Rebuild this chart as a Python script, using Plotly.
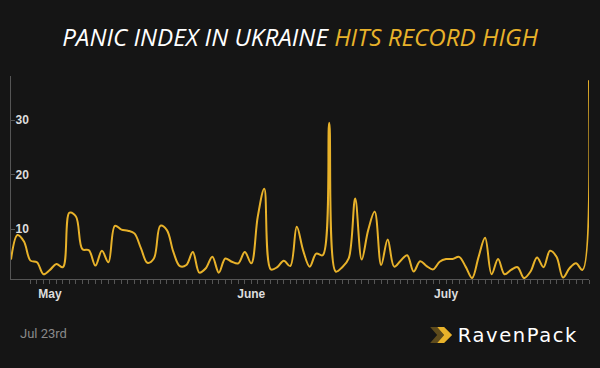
import plotly.graph_objects as go
import pandas as pd

# ---- data ----
start_date = "2014-04-25"
end_date = "2014-07-23"
panic_index = [
    4.4, 8.9, 7.7, 4.2, 3.9, 1.7, 2.5, 3.6, 3.0, 13.0,
    12.3, 6.3, 6.1, 3.3, 6.0, 3.9, 10.6, 9.9, 9.7, 9.2,
    6.5, 3.8, 4.6, 10.6, 9.8, 5.8, 3.2, 3.4, 5.8, 2.0,
    2.8, 4.9, 2.0, 4.6, 4.0, 3.7, 5.8, 3.7, 12.3, 17.4,
    2.6, 3.0, 4.2, 3.2, 10.4, 6.0, 3.1, 5.5, 5.2, 29.5,
    2.2, 3.0, 4.6, 15.6, 4.4, 9.8, 13.2, 3.4, 8.1, 3.1,
    4.2, 5.2, 2.2, 4.1, 3.2, 2.6, 4.0, 4.5, 4.5, 4.9,
    3.1, 1.0, 4.9, 8.4, 1.7, 4.5, 1.7, 2.5, 3.0, 1.0,
    2.2, 4.8, 3.0, 6.0, 4.9, 1.1, 2.8, 3.7, 2.5, 37.3,
]
dates = pd.date_range(start_date, end_date, freq="D")
y_ticks = [10, 20, 30]

title_white = "PANIC INDEX IN UKRAINE"
title_gold = "HITS RECORD HIGH"
footer_date = "Jul 23rd"
brand = "RavenPack"

BG = "#151515"
GOLD = "#E8B22A"

fig = go.Figure()
fig.add_trace(go.Scatter(
    x=dates, y=panic_index, mode="lines",
    line=dict(color=GOLD, width=2, shape="spline", smoothing=1.0),
    hoverinfo="x+y",
))

fig.update_layout(
    width=600, height=368,
    paper_bgcolor=BG, plot_bgcolor=BG,
    margin=dict(l=10.5, r=11, t=76, b=89),
    showlegend=False,
    title=dict(
        text=f"{title_white} <span style='color:{GOLD}'>{title_gold}</span>",
        x=0.5, xanchor="center", y=1 - 38 / 368, yanchor="middle",
        font=dict(family="Open Sans", size=24.2, color="#ffffff", style="italic"),
    ),
    xaxis=dict(
        range=[dates[0], dates[-1]],
        showgrid=False, zeroline=False,
        showline=True, linecolor="#555555", linewidth=1,
        ticks="outside", ticklen=4, tickcolor="#555555",
        dtick="M1", tick0="2014-05-01", tickformat="%B",
        tickfont=dict(family="Liberation Sans", size=12, color="#dddddd", weight="bold"),
        minor=dict(dtick=86400000, tick0=start_date, ticks="outside", ticklen=4,
                   tickcolor="#555555", showgrid=False),
    ),
    yaxis=dict(
        range=[0.83, 38.1],
        showgrid=False, zeroline=False,
        showline=True, linecolor="#555555", linewidth=1,
        tickvals=y_ticks,
        ticks="inside", ticklen=4, tickcolor="#555555",
        ticklabelposition="inside",
        tickfont=dict(family="Liberation Sans", size=12, color="#dddddd", weight="bold"),
    ),
)

fig.add_annotation(
    text=footer_date, xref="paper", yref="paper",
    x=-(10.5 - 18) / 578.5, y=-(333 - 279) / 203, xanchor="left", yanchor="middle",
    showarrow=False, font=dict(family="Roboto", size=13, color="#8a8a8a"),
)
fig.add_annotation(
    text=brand, xref="paper", yref="paper",
    x=(518 - 10.5) / 578.5, y=-(335 - 279) / 203, xanchor="center", yanchor="middle",
    showarrow=False, font=dict(family="DejaVu Sans", size=19.5, color="#ffffff"),
)

# chevron logo mark (pixel coords -> paper)
def px(x, y):
    return ((x - 10.5) / 578.5, (279 - y) / 203)

def chevron(pts):
    return "M " + " L ".join(f"{px(a, b)[0]},{px(a, b)[1]}" for a, b in pts) + " Z"

fig.add_shape(type="path", xref="paper", yref="paper",
              path=chevron([(430, 327), (437, 327), (444, 335), (437, 343), (430, 343), (437, 335)]),
              fillcolor=GOLD, opacity=0.35, line=dict(width=0))
fig.add_shape(type="path", xref="paper", yref="paper",
              path=chevron([(437, 327), (444, 327), (452, 335), (444, 343), (437, 343), (444, 335)]),
              fillcolor=GOLD, line=dict(width=0))

fig.write_html(
    "out.html",
    config={"displayModeBar": False},
    post_script=(
        "document.body.style.margin='0';document.body.style.background='#151515';"
        "document.querySelectorAll('.annotation-text').forEach(function(t){"
        "if(t.textContent==='RavenPack'){t.style.letterSpacing='1.6px';}});"
    ),
)
